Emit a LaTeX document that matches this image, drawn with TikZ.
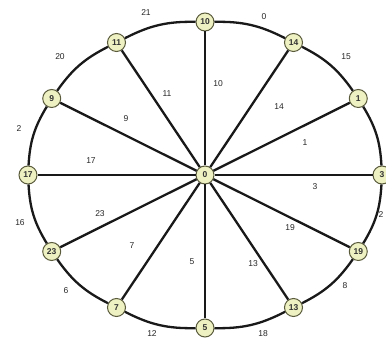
\documentclass[tikz,border=0pt]{standalone}
\usepackage{fontspec}
\setmainfont{Liberation Sans}
\definecolor{nodefill}{HTML}{EEF1C2}
\definecolor{nodeline}{HTML}{5A5A3C}
\tikzset{
  vertex/.style={circle,draw=nodeline,line width=1pt,fill=nodefill,
    minimum size=18pt,inner sep=0pt,font=\fontsize{8.5}{9}\selectfont\bfseries,text=black!80},
  edge/.style={line width=2.3pt,black!90},
  weight/.style={inner sep=0pt,font=\fontsize{8.5}{9}\selectfont,text=black!85}
}
\begin{document}
\begin{tikzpicture}[x=1pt,y=1pt]
  \useasboundingbox (0,0) rectangle (386,340);
  % hub and rim
  \node[vertex] (v0) at (205,165) {0};
  \foreach \a/\n in {0/3,30/1,60/14,90/10,120/11,150/9,180/17,210/23,240/7,270/5,300/13,330/19}
    \node[vertex] (v\n) at ({205+177*cos(\a)},{165+153*sin(\a)}) {\n};
  % spokes
  \foreach \n in {3,1,14,10,11,9,17,23,7,5,13,19}
    \draw[edge] (v0) -- (v\n);
  % rim arcs
  \foreach \p/\q in {3/1,1/14,14/10,10/11,11/9,9/17,17/23,23/7,7/5,5/13,13/19,19/3}
    \draw[edge] (v\p) to[bend right=14] (v\q);
  % spoke weights
  \foreach \t/\x/\y [count=\i] in {10/218/256,14/279/233,1/305/197,3/315/153,19/290/112,13/253/76,
      5/192/78,7/132/94,23/100/126,17/91/179,9/126/221,11/167/246}
    \node[weight] (s\i) at (\x,\y) {\t};
  % rim weights
  \foreach \t/\x/\y [count=\i] in {0/264/323,15/346/283,2/381/125,8/345/54,18/263/6,12/152/6,
      6/66/49,16/20/117,2/19/211,20/60/283,21/146/327}
    \node[weight] (r\i) at (\x,\y) {\t};
\end{tikzpicture}
\end{document}
